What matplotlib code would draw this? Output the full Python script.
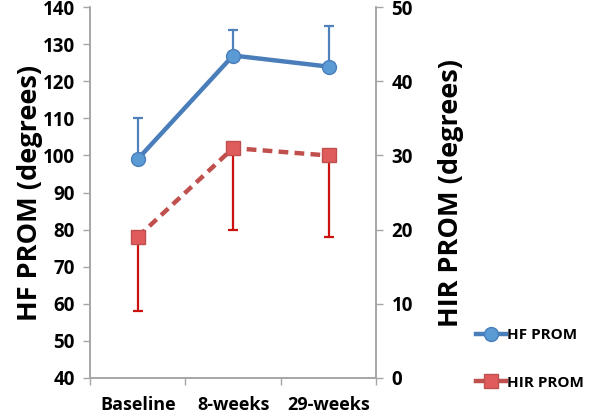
import matplotlib
matplotlib.use("Agg")
import matplotlib.pyplot as plt
from matplotlib.lines import Line2D

categories = ["Baseline", "8-weeks", "29-weeks"]
hf_prom = [99, 127, 124]
hf_err_up = [11, 7, 11]
hir_prom = [19, 31, 30]
hir_err_down = [10, 11, 11]
left_ticks = [40, 50, 60, 70, 80, 90, 100, 110, 120, 130, 140]
right_ticks = [0, 10, 20, 30, 40, 50]

plt.rcParams['font.family'] = ['Open Sans', 'DejaVu Sans']
plt.rcParams['font.weight'] = 'bold'

fig = plt.figure(figsize=(6, 4.18), dpi=100)
ax = fig.add_axes([0.15, 0.0964, 0.477, 0.886])
ax2 = ax.twinx()

x = list(range(len(categories)))
gray = '#a6a6a6'

# HF series
ax.errorbar(x, hf_prom, yerr=[[0]*3, hf_err_up], fmt='none', ecolor='#4f81bd',
            elinewidth=1.6, capsize=3.5, capthick=1.6, zorder=2)
ax.plot(x, hf_prom, color='#4a7ebb', lw=3.2, marker='o', ms=10,
        mfc='#5b9bd5', mec='#4a7ebb', mew=1, zorder=3)

# HIR series
ax2.errorbar(x, hir_prom, yerr=[hir_err_down, [0]*3], fmt='none', ecolor='#cc1111',
             elinewidth=1.6, capsize=3.5, capthick=1.6, zorder=2)
ax2.plot(x, hir_prom, color='#c0504d', lw=3.2, ls=(0, (2.2, 1.4)), marker='s', ms=10,
         mfc='#e05c5c', mec='#c0504d', mew=1, zorder=3)

ax.set_xlim(-0.5, 2.5)
ax.set_ylim(40, 140)
ax2.set_ylim(0, 50)
ax.set_yticks(left_ticks)
ax2.set_yticks(right_ticks)

ax.set_xticks([-0.5, 0.5, 1.5, 2.5])
ax.set_xticklabels([])
ax.set_xticks(x, minor=True)
ax.set_xticklabels(categories, minor=True, fontsize=13, fontweight='bold')
ax.tick_params(axis='x', which='minor', length=0, pad=13)
ax.tick_params(axis='x', which='major', length=5, color=gray, width=1)
ax.tick_params(axis='y', length=5, color=gray, width=1, labelsize=13.5, pad=6)
ax2.tick_params(axis='y', length=5, color=gray, width=1, labelsize=13.5, pad=6)
for lab in ax.get_yticklabels() + ax2.get_yticklabels():
    lab.set_fontweight('bold')

for a in (ax, ax2):
    a.spines['top'].set_visible(False)
    for s in ('left', 'right', 'bottom'):
        a.spines[s].set_color(gray)
        a.spines[s].set_linewidth(1.2)

ax.set_ylabel("HF PROM (degrees)", fontsize=19.5, fontweight='bold', labelpad=0)
ax2.set_ylabel("HIR PROM (degrees)", fontsize=19.5, fontweight='bold', labelpad=18)

handles = [
    Line2D([], [], color='#4a7ebb', lw=3.2, ls='-', marker='o', ms=10, mfc='#5b9bd5', mec='#4a7ebb'),
    Line2D([], [], color='#c0504d', lw=3.2, ls='-', marker='s', ms=10, mfc='#e05c5c', mec='#c0504d'),
]
fig.legend(handles, ["HF PROM", "HIR PROM"], loc='lower left',
           bbox_to_anchor=(0.77, 0.035), frameon=False, handlelength=2.0,
           handletextpad=0.05, labelspacing=2.2, prop={'size': 11, 'weight': 'bold'})

fig.savefig("out.png", dpi=100)
